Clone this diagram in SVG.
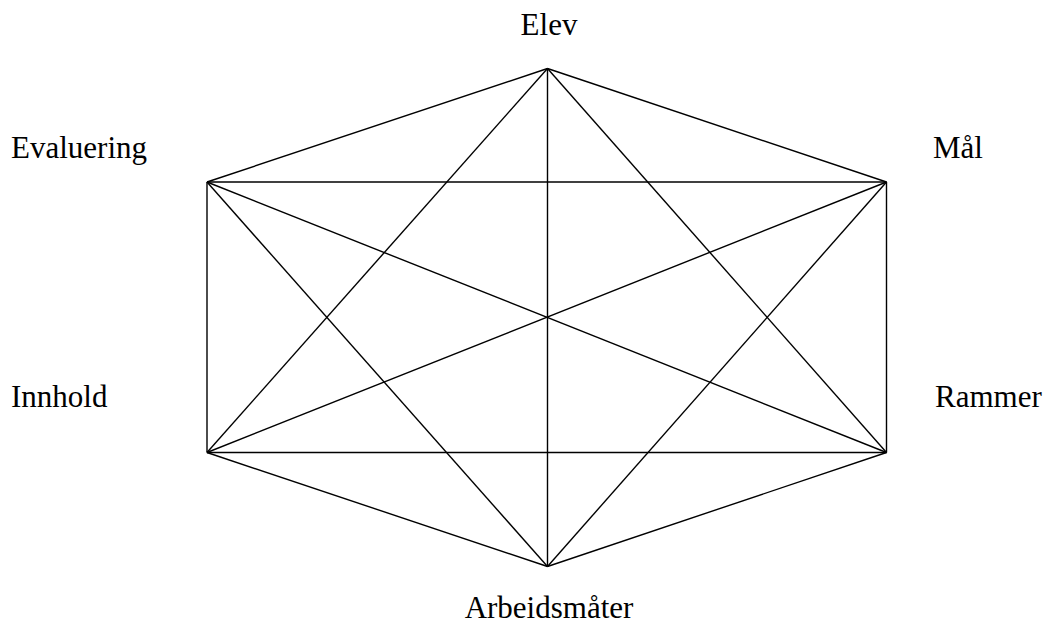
<svg xmlns="http://www.w3.org/2000/svg" width="1046" height="623" viewBox="0 0 1046 623">
<style>
.c line{stroke:#000;stroke-width:1.4}
</style>
<rect width="1046" height="623" fill="#fff"/>
<g class="c" id="connectors">
<line x1="547.5" y1="68.5" x2="886.5" y2="182"/>
<line x1="886.5" y1="182" x2="886.5" y2="452.5"/>
<line x1="886.5" y1="452.5" x2="547.5" y2="566.5"/>
<line x1="547.5" y1="566.5" x2="207" y2="452.5"/>
<line x1="207" y1="452.5" x2="207" y2="182"/>
<line x1="207" y1="182" x2="547.5" y2="68.5"/>
<line x1="207" y1="182" x2="886.5" y2="182"/>
<line x1="207" y1="452.5" x2="886.5" y2="452.5"/>
<line x1="547.5" y1="68.5" x2="547.5" y2="566.5"/>
<line x1="547.5" y1="68.5" x2="207" y2="452.5"/>
<line x1="547.5" y1="68.5" x2="886.5" y2="452.5"/>
<line x1="547.5" y1="566.5" x2="207" y2="182"/>
<line x1="547.5" y1="566.5" x2="886.5" y2="182"/>
<line x1="207" y1="182" x2="886.5" y2="452.5"/>
<line x1="207" y1="452.5" x2="886.5" y2="182"/>
</g>
<g font-family="Liberation Serif, Tinos, Times New Roman, DejaVu Serif, serif" font-size="31" fill="#000">
<g id="elev"><text x="549" y="35" text-anchor="middle">Elev</text></g>
<g id="maal"><text x="933" y="158">Mål</text></g>
<g id="rammer"><text x="935" y="407">Rammer</text></g>
<g id="arbeidsmaater"><text x="549" y="618" text-anchor="middle">Arbeidsmåter</text></g>
<g id="innhold"><text x="11" y="407">Innhold</text></g>
<g id="evaluering"><text x="11" y="158">Evaluering</text></g>
</g>
</svg>
